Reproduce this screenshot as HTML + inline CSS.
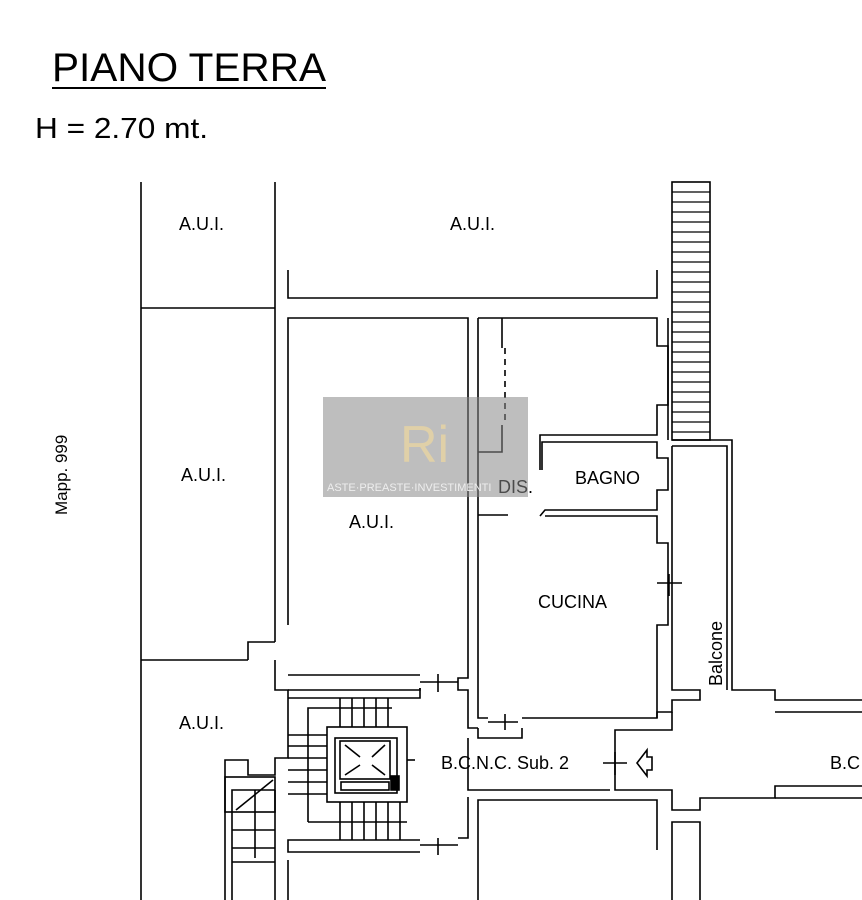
<!DOCTYPE html>
<html><head><meta charset="utf-8"><style>
body{margin:0;background:#fff}
svg{display:block}
text{font-family:"Liberation Sans",Arial,sans-serif;fill:#000}
</style></head><body>
<svg width="862" height="900" viewBox="0 0 862 900" xmlns="http://www.w3.org/2000/svg">
<text x="52" y="81" font-size="40" textLength="274" lengthAdjust="spacingAndGlyphs">PIANO TERRA</text>
<line x1="52" y1="88" x2="326" y2="88" stroke="#000" stroke-width="2"/>
<text x="35" y="138" font-size="29" textLength="173" lengthAdjust="spacingAndGlyphs">H = 2.70 mt.</text>
<g fill="none" stroke="#000" stroke-width="1.6">
<line x1="141" y1="182" x2="141" y2="900"/>
<line x1="275" y1="182" x2="275" y2="642"/>
<line x1="141" y1="308" x2="275" y2="308"/>
<line x1="141" y1="660" x2="248" y2="660"/>
<polyline points="248,660 248,642 275,642"/>
<polyline points="275,660 275,690 288,690 288,758 275,758 275,775 248,775 248,760 225,760 225,900"/>
<polyline points="232,900 232,790 248,790"/>
<rect x="225" y="777" width="50" height="35"/>
<line x1="248" y1="790" x2="275" y2="790"/>
<line x1="236" y1="810" x2="273" y2="780"/>
<line x1="232" y1="830" x2="275" y2="830"/>
<line x1="232" y1="848" x2="275" y2="848"/>
<line x1="232" y1="862" x2="275" y2="862"/>
<line x1="255" y1="790" x2="255" y2="858"/>
<line x1="275" y1="790" x2="275" y2="900"/>
<polyline points="288,270 288,298 657,298 657,270"/>
<rect x="672" y="182" width="38" height="258"/>
<polyline points="288,625 288,318 468,318 468,678 458,678 458,690 468,690 468,728 478,728"/>
<polyline points="288,675 420,675"/>
<line x1="420" y1="682" x2="458" y2="682"/><line x1="438" y1="674" x2="438" y2="692"/>
<polyline points="478,318 657,318 657,346 668,346 668,405 657,405 657,435 540,435 540,470"/>
<polyline points="478,318 478,718 488,718"/>
<line x1="488" y1="722" x2="518" y2="722"/><line x1="505" y1="714" x2="505" y2="730"/>
<polyline points="502,318 502,348"/>
<line x1="505" y1="348" x2="505" y2="425" stroke-dasharray="6,5"/>
<polyline points="502,425 502,452 478,452"/>
<line x1="478" y1="515" x2="508" y2="515"/>
<polyline points="542,470 542,442 657,442 657,458 668,458 668,490 657,490 657,510 545,510 540,516"/>
<polyline points="545,516 657,516 657,543 668,543 668,625 657,625 657,718 522,718"/>
<line x1="657" y1="583" x2="682" y2="583"/><line x1="669" y1="574" x2="669" y2="596"/>
<line x1="668" y1="318" x2="668" y2="440"/>
<polyline points="672,440 732,440 732,690 775,690 775,700 862,700"/>
<polyline points="672,446 727,446 727,690"/>
<polyline points="672,446 672,690 700,690 700,700 672,700 672,712 657,712 657,718"/>
<line x1="775" y1="712" x2="862" y2="712"/>
<polyline points="672,712 672,730 615,730 615,790 672,790 672,810 700,810 700,798 775,798 775,786 862,786"/>
<line x1="775" y1="798" x2="862" y2="798"/>
<polyline points="700,900 700,822 672,822 672,900"/>
<polyline points="478,728 478,738 522,738 522,728"/>
<polyline points="468,738 468,790 610,790"/>
<polyline points="468,797 468,838 458,838"/>
<polyline points="478,900 478,800 657,800 657,850"/>
<line x1="420" y1="845" x2="458" y2="845"/><line x1="438" y1="838" x2="438" y2="855"/>
<polyline points="420,840 288,840 288,852 420,852"/>
<line x1="288" y1="860" x2="288" y2="900"/>
<polyline points="288,690 420,690 420,688"/>
<polyline points="420,688 420,698 288,698"/>
<rect x="327" y="727" width="80" height="75"/>
<rect x="335" y="738" width="62" height="55"/>
<rect x="340" y="741" width="50" height="38"/>
<line x1="345" y1="745" x2="360" y2="757"/><line x1="385" y1="745" x2="372" y2="757"/>
<line x1="345" y1="775" x2="360" y2="765"/><line x1="385" y1="775" x2="372" y2="765"/>
<rect x="341" y="782" width="48" height="8"/>
<rect x="391" y="776" width="8" height="14" fill="#000"/>
<line x1="407" y1="760" x2="415" y2="760"/>
<line x1="288" y1="735" x2="327" y2="735"/><line x1="288" y1="746" x2="327" y2="746"/>
<line x1="288" y1="758" x2="327" y2="758"/><line x1="288" y1="770" x2="327" y2="770"/>
<line x1="288" y1="782" x2="327" y2="782"/><line x1="288" y1="794" x2="327" y2="794"/>
<polyline points="308,822 308,708 392,708"/>
<line x1="340" y1="698" x2="340" y2="727"/><line x1="352" y1="698" x2="352" y2="727"/>
<line x1="364" y1="698" x2="364" y2="727"/><line x1="376" y1="698" x2="376" y2="727"/>
<line x1="388" y1="698" x2="388" y2="727"/>
<line x1="340" y1="802" x2="340" y2="840"/><line x1="352" y1="802" x2="352" y2="840"/>
<line x1="364" y1="802" x2="364" y2="840"/><line x1="376" y1="802" x2="376" y2="840"/>
<line x1="388" y1="802" x2="388" y2="840"/><line x1="400" y1="802" x2="400" y2="840"/>
<line x1="308" y1="822" x2="407" y2="822"/>
<polygon points="637,763 647,750 647,757 652,757 652,770 647,770 647,776"/>
<line x1="603" y1="763" x2="627" y2="763"/><line x1="615" y1="752" x2="615" y2="775"/>
</g>
<g stroke="#000" stroke-width="1.2">
<line x1="672" y1="192" x2="710" y2="192"/><line x1="672" y1="202" x2="710" y2="202"/><line x1="672" y1="212" x2="710" y2="212"/><line x1="672" y1="222" x2="710" y2="222"/><line x1="672" y1="232" x2="710" y2="232"/><line x1="672" y1="242" x2="710" y2="242"/><line x1="672" y1="252" x2="710" y2="252"/><line x1="672" y1="262" x2="710" y2="262"/><line x1="672" y1="272" x2="710" y2="272"/><line x1="672" y1="282" x2="710" y2="282"/><line x1="672" y1="292" x2="710" y2="292"/><line x1="672" y1="302" x2="710" y2="302"/><line x1="672" y1="312" x2="710" y2="312"/><line x1="672" y1="322" x2="710" y2="322"/><line x1="672" y1="332" x2="710" y2="332"/><line x1="672" y1="342" x2="710" y2="342"/><line x1="672" y1="352" x2="710" y2="352"/><line x1="672" y1="362" x2="710" y2="362"/><line x1="672" y1="372" x2="710" y2="372"/><line x1="672" y1="382" x2="710" y2="382"/><line x1="672" y1="392" x2="710" y2="392"/><line x1="672" y1="402" x2="710" y2="402"/><line x1="672" y1="412" x2="710" y2="412"/><line x1="672" y1="422" x2="710" y2="422"/><line x1="672" y1="432" x2="710" y2="432"/>
</g>
<g font-size="18">
<text x="179" y="230">A.U.I.</text>
<text x="450" y="230">A.U.I.</text>
<text x="181" y="481">A.U.I.</text>
<text x="349" y="528">A.U.I.</text>
<text x="179" y="729">A.U.I.</text>
<text x="498" y="493">DIS.</text>
<text x="575" y="484">BAGNO</text>
<text x="538" y="608">CUCINA</text>
<text x="441" y="769">B.C.N.C. Sub. 2</text>
<text x="830" y="769">B.C</text>
<text transform="translate(67,515) rotate(-90)" font-size="17">Mapp. 999</text>
<text transform="translate(722,686) rotate(-90)" font-size="18">Balcone</text>
</g>
<rect x="323" y="397" width="205" height="100" fill="#888" opacity="0.55"/>
<text x="400" y="462" font-size="52" font-family="Liberation Serif,serif" style="fill:#e0d0a8">Ri</text>
<text x="327" y="491" font-size="11" font-family="Liberation Serif,serif" style="fill:#eee">ASTE·PREASTE·INVESTIMENTI</text>
</svg>
</body></html>
